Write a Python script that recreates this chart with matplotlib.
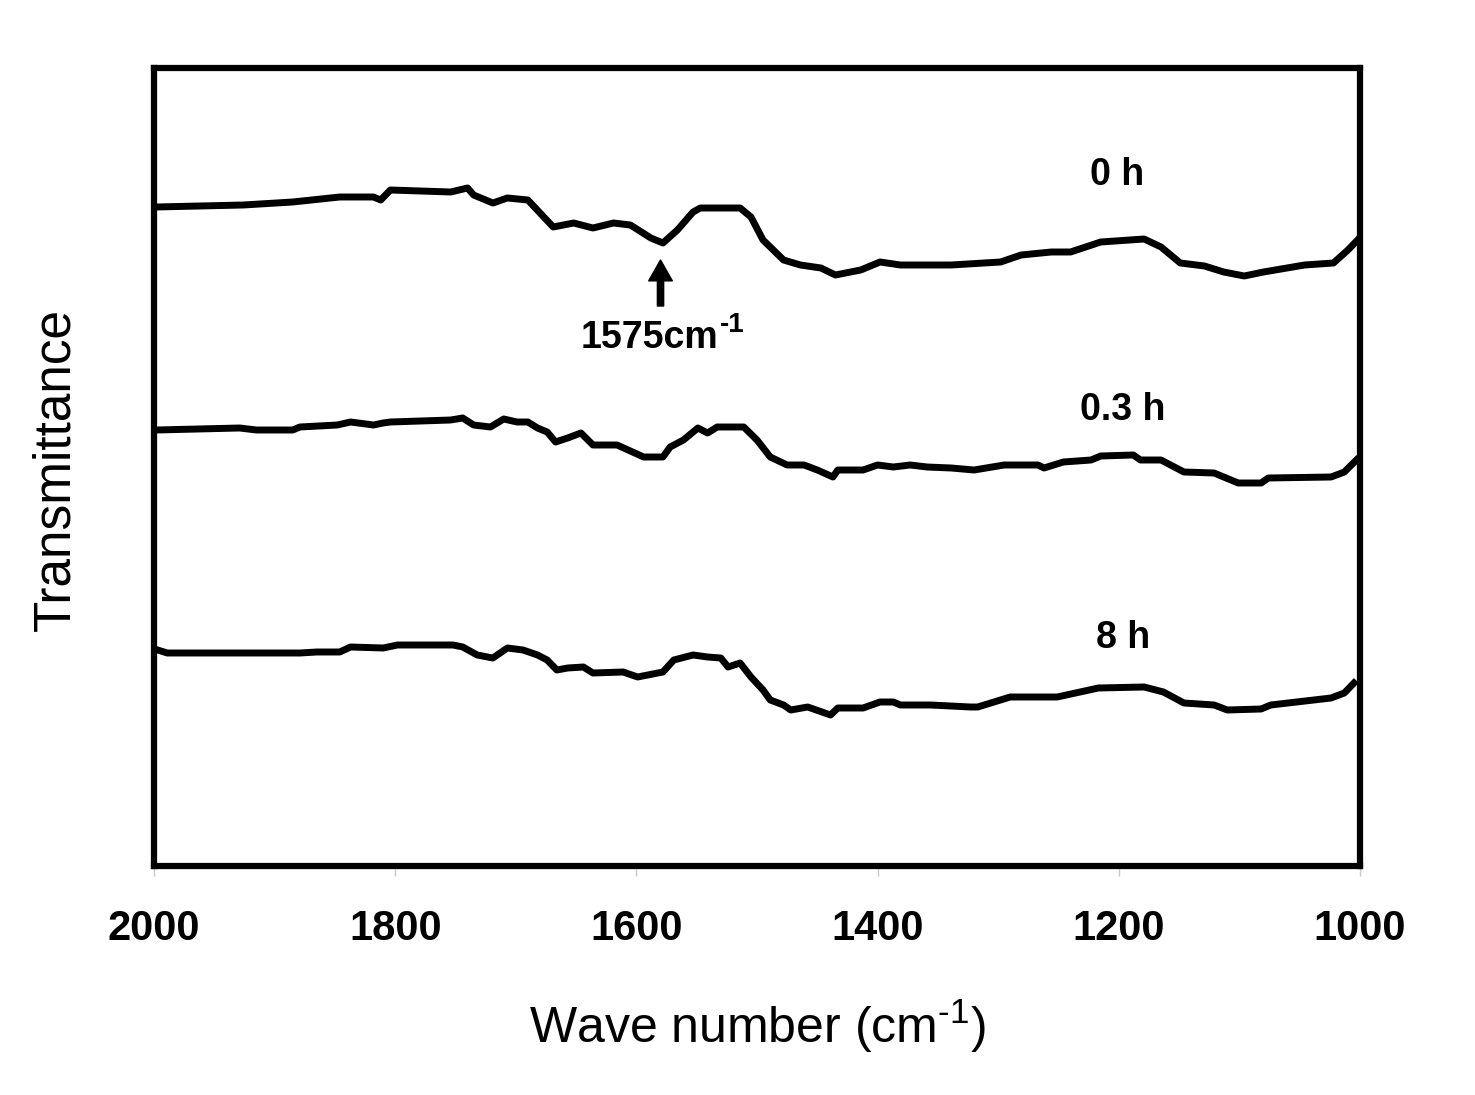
import matplotlib
matplotlib.use("Agg")
import matplotlib.pyplot as plt

# FTIR spectra (wave number, transmittance in arbitrary units)
wn_0h = [1998, 1926, 1885, 1846, 1818, 1812, 1804, 1754, 1740, 1735, 1719, 1707, 1690,
         1669, 1652, 1636, 1619, 1605, 1588, 1578, 1566, 1553, 1547, 1514, 1505, 1495,
         1478, 1464, 1447, 1435, 1414, 1398, 1381, 1339, 1298, 1281, 1256, 1240, 1215,
         1179, 1165, 1149, 1129, 1113, 1096, 1080, 1046, 1022, 1010, 1002]
tr_0h = [659, 661, 664, 669, 669, 666, 676, 674, 678, 671, 663, 668, 666,
         639, 643, 638, 643, 641, 628, 623, 636, 654, 658, 658, 649, 626,
         606, 601, 598, 591, 596, 604, 601, 601, 604, 611, 614, 614, 624,
         627, 619, 603, 600, 594, 590, 594, 601, 603, 616, 626]

wn_03h = [1998, 1929, 1915, 1885, 1879, 1848, 1837, 1818, 1810, 1804, 1754, 1744, 1735,
          1721, 1710, 1699, 1690, 1682, 1674, 1667, 1657, 1646, 1636, 1616, 1594, 1578,
          1572, 1561, 1549, 1541, 1533, 1511, 1500, 1489, 1475, 1461, 1450, 1437, 1433,
          1412, 1400, 1387, 1373, 1359, 1339, 1320, 1295, 1267, 1262, 1246, 1223, 1215,
          1188, 1182, 1165, 1146, 1121, 1113, 1101, 1082, 1076, 1024, 1013, 1003]
tr_03h = [436, 438, 436, 436, 439, 441, 444, 441, 443, 444, 446, 448, 441,
          439, 447, 444, 444, 438, 434, 424, 428, 433, 421, 421, 409, 409,
          419, 426, 438, 433, 439, 439, 426, 409, 401, 401, 396, 389, 396,
          396, 401, 399, 401, 399, 398, 396, 401, 401, 398, 404, 406, 410,
          411, 406, 406, 394, 393, 389, 383, 383, 388, 389, 394, 406]

wn_8h = [1997, 1989, 1879, 1865, 1846, 1837, 1810, 1798, 1752, 1744, 1732, 1719, 1707,
         1694, 1682, 1674, 1666, 1657, 1644, 1636, 1611, 1599, 1578, 1569, 1553, 1541,
         1530, 1524, 1514, 1505, 1495, 1489, 1478, 1472, 1458, 1439, 1433, 1412, 1398,
         1387, 1381, 1356, 1323, 1317, 1290, 1251, 1217, 1179, 1163, 1146, 1121, 1110,
         1082, 1074, 1024, 1013, 1005]
tr_8h = [216, 213, 213, 214, 214, 219, 218, 221, 221, 219, 211, 208, 218,
         216, 211, 206, 196, 198, 199, 193, 194, 189, 194, 206, 211, 209,
         208, 199, 203, 189, 176, 166, 161, 156, 159, 151, 158, 158, 164,
         164, 161, 161, 159, 159, 169, 169, 178, 179, 174, 163, 161, 156,
         157, 161, 168, 173, 183]

series = [(wn_0h, tr_0h), (wn_03h, tr_03h), (wn_8h, tr_8h)]
labels = ["0 h", "0.3 h", "8 h"]
label_x = [1201, 1197, 1196]
label_y = [681, 446, 218]

xticks = [2000, 1800, 1600, 1400, 1200, 1000]

plt.rcParams["font.family"] = ["Liberation Sans", "DejaVu Sans"]
plt.rcParams["mathtext.fontset"] = "custom"
plt.rcParams["mathtext.rm"] = "Liberation Sans"
plt.rcParams["mathtext.bf"] = "Liberation Sans:bold"
plt.rcParams["axes.unicode_minus"] = False

fig = plt.figure(figsize=(14.75, 10.95), dpi=100)
ax = fig.add_axes([154 / 1475, 229 / 1095, 1206 / 1475, 798 / 1095])

for wn, tr in series:
    ax.plot(wn, tr, color="black", lw=5, solid_joinstyle="round")

for lab, x, y in zip(labels, label_x, label_y):
    ax.text(x, y, lab, ha="center", va="baseline", fontsize=27, fontweight="bold")

# peak marker
ax.annotate("", xy=(1580, 606), xytext=(1580, 560),
            arrowprops=dict(width=4.5, headwidth=17, headlength=15, color="black", shrink=0))
t = ax.text(1589, 518, "1575cm", ha="center", va="baseline", fontsize=27, fontweight="bold")
ax.annotate("-1", xy=(1, 0.66), xycoords=t, xytext=(1, 0), textcoords="offset points",
            ha="left", va="baseline", fontsize=20, fontweight="bold")

ax.set_xlim(2000, 1000)
ax.set_ylim(0, 798)
ax.set_xticks(xticks)
ax.set_xticklabels([str(t) for t in xticks], fontsize=30, fontweight="bold")
ax.set_yticks([])
ax.tick_params(axis="x", direction="out", length=7, width=1, color="#c8c8c8", pad=24)
for s in ax.spines.values():
    s.set_linewidth(4.5)

ax.set_xlabel(r"Wave number (cm$^{\text{-1}}$)", fontsize=36)
ax.xaxis.set_label_coords(0.5, -0.165)
ax.set_ylabel("Transmittance", fontsize=37)
ax.yaxis.set_label_coords(-0.061, 0.497)

fig.savefig("out.png", dpi=100)
